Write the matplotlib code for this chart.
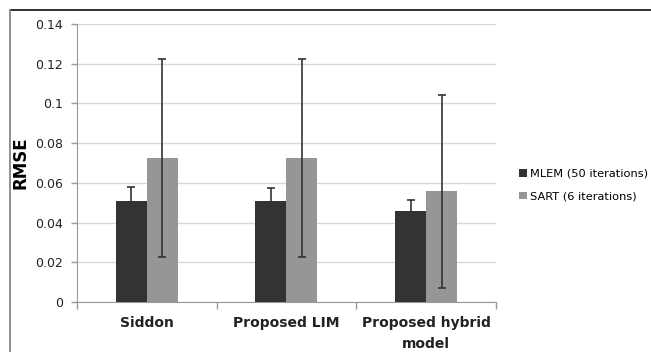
import matplotlib
matplotlib.use("Agg")
import matplotlib.pyplot as plt
from matplotlib.lines import Line2D
import numpy as np

categories = ["Siddon", "Proposed LIM", "Proposed hybrid\nmodel"]
mlem_rmse = [0.051, 0.051, 0.046]
mlem_err = [0.0071, 0.0066, 0.0056]
sart_rmse = [0.0725, 0.0725, 0.0557]
sart_err = [0.0496, 0.0498, 0.0487]
yticks = [0, 0.02, 0.04, 0.06, 0.08, 0.1, 0.12, 0.14]
ytick_labels = ["0", "0.02", "0.04", "0.06", "0.08", "0.1", "0.12", "0.14"]

plt.rcParams['font.family'] = ['DejaVu Sans']

fig = plt.figure(figsize=(6.51, 3.52), dpi=100)
ax = fig.add_axes([0.118, 0.142, 0.644, 0.79])

x = np.arange(len(categories))
width = 0.222
err_kw = dict(ecolor="#333333", elinewidth=1.2, capsize=3, capthick=1.2)
ax.bar(x - width / 2, mlem_rmse, width, yerr=mlem_err, color="#333333",
       label="MLEM (50 iterations)", error_kw=err_kw, zorder=3)
ax.bar(x + width / 2, sart_rmse, width, yerr=sart_err, color="#969696",
       label="SART (6 iterations)", error_kw=err_kw, zorder=3)

ax.set_xlim(-0.5, len(categories) - 0.5)
ax.set_ylim(0, 0.14)
ax.set_yticks(yticks)
ax.set_yticklabels(ytick_labels, fontsize=9, color="#222222")
ax.set_xticks(x)
ax.set_xticklabels(categories, fontsize=10, fontweight="bold", color="#222222",
                   linespacing=1.6)
ax.tick_params(axis="x", length=0, pad=10)
ax.tick_params(axis="y", length=4, color="#999999", width=1, pad=6)
ax.set_xticks(np.arange(len(categories) + 1) - 0.5, minor=True)
ax.tick_params(axis="x", which="minor", length=5, color="#999999", width=1)

ax.grid(True, axis="y", color="#d9d9d9", linewidth=1, zorder=0)
for side in ("top", "right"):
  ax.spines[side].set_visible(False)
ax.spines["left"].set_color("#999999")
ax.spines["bottom"].set_color("#999999")

ax.set_ylabel("RMSE", fontsize=12, fontweight="bold", labelpad=4)

ax.legend(loc="center left", bbox_to_anchor=(1.03, 0.42), frameon=False,
          fontsize=8.2, handlelength=0.7, handleheight=0.7, handletextpad=0.3,
          labelspacing=1.1)

# frame lines at the top and left of the image
fig.add_artist(Line2D([10 / 651, 1], [1 - 10 / 352, 1 - 10 / 352],
                      transform=fig.transFigure, color="#222222", linewidth=1.3))
fig.add_artist(Line2D([10 / 651, 10 / 651], [0, 1 - 10 / 352],
                      transform=fig.transFigure, color="#888888", linewidth=1.3))

fig.savefig("out.png", dpi=100)
